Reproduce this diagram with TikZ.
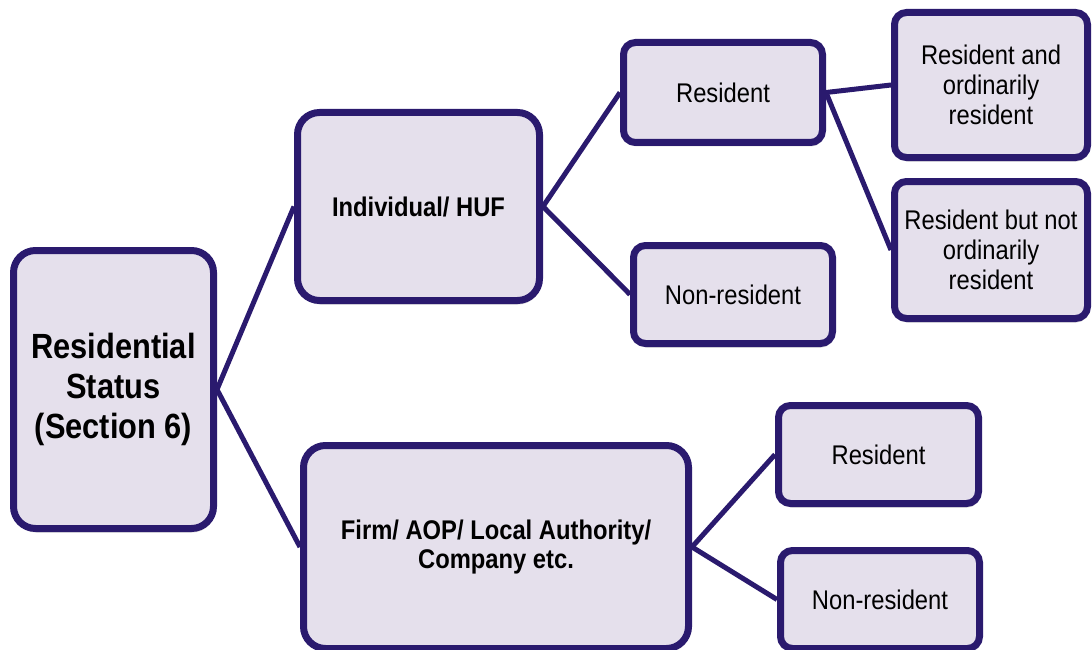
\documentclass[tikz,border=0pt]{standalone}
\usepackage{fontspec}
\setmainfont{Liberation Sans}[FakeStretch=0.88]
\usepackage{tikz}
\usetikzlibrary{positioning, shadows, backgrounds}

\definecolor{boxline}{HTML}{2A1A6E}
\definecolor{boxfill}{HTML}{E5E0EC}

\begin{document}
\begin{tikzpicture}[x=1pt, y=-1pt,
  box/.style={draw=boxline, fill=boxfill, line width=7pt, rounded corners=12pt,
    align=center, inner sep=0pt, text=black,
    font=\fontsize{27}{30}\selectfont,
    drop shadow={shadow xshift=1pt, shadow yshift=-4pt, opacity=0.25, fill=black!60}},
  bigbox/.style={box, rounded corners=22pt, font=\fontsize{27}{29}\selectfont\bfseries},
  link/.style={draw=boxline, line width=5pt}]

\useasboundingbox (0,0) rectangle (1092,650);

% root
\node[bigbox, minimum width=200pt, minimum height=278pt,
  font=\fontsize{35}{40}\selectfont\bfseries] (root) at (113.5, 389.5)
  {Residential\\Status\\(Section 6)};

% second level
\node[bigbox, minimum width=242pt, minimum height=188pt] (indiv) at (418.5, 206.5)
  {Individual/ HUF};
\node[bigbox, minimum width=385pt, minimum height=203pt] (firm) at (496, 547)
  {Firm/ AOP/ Local Authority/\\Company etc.};

% third level
\node[box, minimum width=199pt, minimum height=100pt] (indres) at (723, 92.5)
  {Resident};
\node[box, minimum width=199pt, minimum height=98pt] (indnonres) at (733, 294.5)
  {Non-resident};
\node[box, minimum width=200pt, minimum height=98pt] (firmres) at (878.5, 454.5)
  {Resident};
\node[box, minimum width=199pt, minimum height=98pt] (firmnonres) at (880, 599.5)
  {Non-resident};

% fourth level
\node[box, minimum width=193pt, minimum height=145pt] (resor) at (991, 85)
  {Resident and\\ordinarily\\resident};
\node[box, minimum width=193pt, minimum height=137pt] (resnor) at (991, 250)
  {Resident but not\\ordinarily\\resident};

% connectors
\begin{scope}[on background layer]
\draw[link] (root.east) -- (indiv.west);
\draw[link] (root.east) -- (firm.west);
\draw[link] (indiv.east) -- (indres.west);
\draw[link] (indiv.east) -- (indnonres.west);
\draw[link] (indres.east) -- (resor.west);
\draw[link] (indres.east) -- (resnor.west);
\draw[link] (firm.east) -- (firmres.west);
\draw[link] (firm.east) -- (firmnonres.west);
\end{scope}

\end{tikzpicture}
\end{document}
